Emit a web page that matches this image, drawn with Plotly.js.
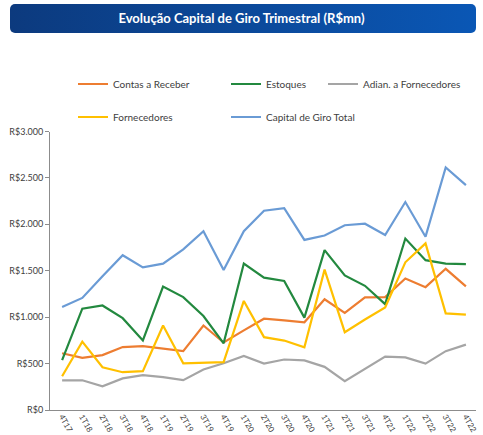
<!DOCTYPE html>
<html>
<head>
<meta charset="utf-8">
<script src="https://cdn.plot.ly/plotly-3.0.1.min.js"></script>
<style>
  html, body { margin: 0; padding: 0; background: #ffffff; }
  #wrap { position: relative; width: 483px; height: 435px; }
  #banner { position: absolute; left: 10px; top: 4px; width: 466px; height: 29px;
            border-radius: 5px; background: linear-gradient(to right, #0c3a7e, #0a57b5); z-index: 0; }
  #chart { position: absolute; left: 0; top: 0; width: 483px; height: 435px; z-index: 1; }
</style>
</head>
<body>
<div id="wrap">
  <div id="banner"></div>
  <div id="chart"></div>
</div>
<script>
const quarters = ["4T17","1T18","2T18","3T18","4T18","1T19","2T19","3T19","4T19","1T20","2T20","3T20","4T20","1T21","2T21","3T21","4T21","1T22","2T22","3T22","4T22"];
const contasReceber = [611, 561, 591, 678, 689, 660, 634, 910, 727, 858, 983, 966, 945, 1193, 1047, 1213, 1216, 1416, 1323, 1521, 1332];
const estoques = [538, 1091, 1126, 989, 750, 1329, 1216, 1012, 718, 1577, 1425, 1390, 995, 1722, 1449, 1338, 1140, 1847, 1614, 1577, 1571];
const adianFornecedores = [320, 320, 255, 340, 375, 355, 322, 436, 503, 582, 500, 544, 535, 465, 311, 440, 576, 567, 500, 634, 704];
const fornecedores = [364, 736, 460, 407, 419, 910, 503, 512, 515, 1175, 785, 748, 675, 1512, 838, 975, 1105, 1591, 1795, 1041, 1027];
const capitalGiroTotal = [1110, 1207, 1440, 1667, 1536, 1577, 1730, 1926, 1507, 1926, 2147, 2175, 1832, 1879, 1990, 2007, 1885, 2240, 1867, 2612, 2423];
const yTickVals = [0, 500, 1000, 1500, 2000, 2500, 3000];
const yTickText = ["R$0", "R$500", "R$1.000", "R$1.500", "R$2.000", "R$2.500", "R$3.000"];

const FONT = "Lato, 'Open Sans', sans-serif";
function tr(name, y, color, legend) {
  return { type: "scatter", mode: "lines", name: name, x: quarters, y: y,
           line: { color: color, width: 2.2 }, legend: legend, hoverinfo: "skip" };
}
const data = [
  tr("Contas a Receber", contasReceber, "#ED7D31", "legend"),
  tr("Estoques", estoques, "#23893F", "legend"),
  tr("Adian. a Fornecedores", adianFornecedores, "#A5A5A5", "legend3"),
  tr("Fornecedores", fornecedores, "#FFC000", "legend2"),
  tr("Capital de Giro Total", capitalGiroTotal, "#6A9BD5", "legend2")
];
const legendBase = {
  orientation: "h", xref: "container", yref: "container",
  x: 73 / 483, xanchor: "left", yanchor: "middle",
  entrywidth: 108, entrywidthmode: "pixels", itemwidth: 30,
  bgcolor: "rgba(0,0,0,0)", borderwidth: 0,
  font: { family: FONT, size: 10, color: "#404040" }, traceorder: "normal"
};
const layout = {
  width: 483, height: 435,
  paper_bgcolor: "rgba(0,0,0,0)", plot_bgcolor: "#ffffff",
  margin: { l: 50, r: 7, t: 66, b: 25, pad: 0 },
  title: { text: "<b>Evolução Capital de Giro Trimestral (R$mn)</b>",
           font: { family: FONT, size: 13, color: "#ffffff" },
           xref: "container", yref: "container", x: 0.5, xanchor: "center",
           y: 1 - 18.5 / 435, yanchor: "middle" },
  showlegend: true,
  legend: Object.assign({}, legendBase, { y: 1 - 84 / 435 }),
  legend2: Object.assign({}, legendBase, { y: 1 - 117 / 435 }),
  legend3: Object.assign({}, legendBase, { x: 323 / 483, y: 1 - 84 / 435 }),
  xaxis: { type: "category", range: [-0.6, 20.5], showgrid: false, zeroline: false,
           showline: true, linecolor: "#8c8c8c", linewidth: 1, ticks: "",
           tickangle: 60, automargin: false, ticklabelstandoff: -2,
           tickfont: { family: FONT, size: 8, color: "#404040" } },
  yaxis: { range: [0, 3000], tickvals: yTickVals, ticktext: yTickText,
           showgrid: false, zeroline: false, showline: true, linecolor: "#8c8c8c", linewidth: 1,
           ticks: "outside", ticklen: 4, tickcolor: "#8c8c8c", automargin: false,
           tickfont: { family: FONT, size: 9, color: "#404040" } }
};
Plotly.newPlot("chart", data, layout, { staticPlot: true, displayModeBar: false });
</script>
</body>
</html>
